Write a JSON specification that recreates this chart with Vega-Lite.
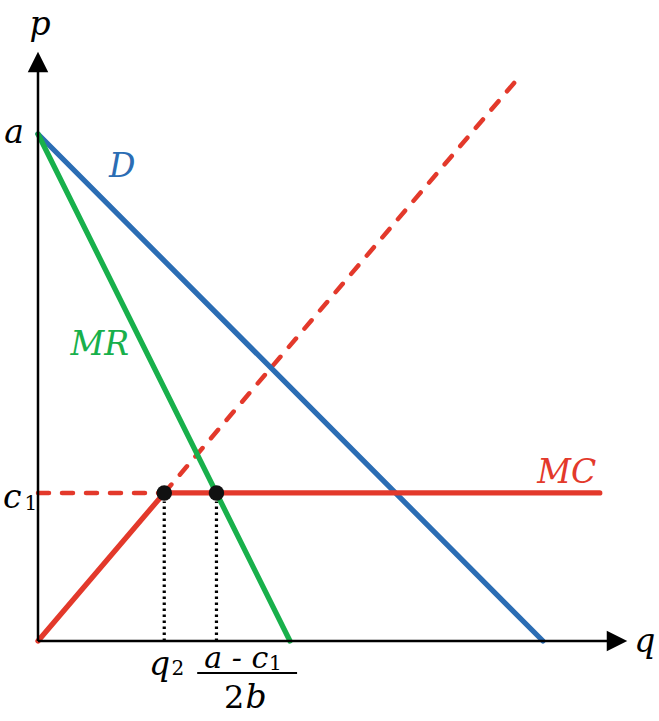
{
  "$schema": "https://vega.github.io/schema/vega-lite/v6.json",
  "width": 659,
  "height": 721,
  "padding": 0,
  "autosize": {"type": "fit", "contains": "padding"},
  "background": "white",
  "config": {"view": {"stroke": null}},
  "datasets": {
    "segments": [
      {"who": "axis", "q": 0, "p": 0, "q2": 0, "p2": 114},
      {"who": "axis", "q": 0, "p": 0, "q2": 114, "p2": 0}
    ],
    "curves": [
      {"who": "D", "q": 0, "p": 100, "q2": 99.6, "p2": 0},
      {"who": "MC", "q": 0, "p": 0, "q2": 24.9, "p2": 29.2},
      {"who": "MC", "q": 24.9, "p": 29.2, "q2": 110.8, "p2": 29.2},
      {"who": "MR", "q": 0, "p": 100, "q2": 49.7, "p2": 0}
    ],
    "dashed": [
      {"who": "MC", "q": 0, "p": 29.2, "q2": 24.9, "p2": 29.2},
      {"who": "MC", "q": 24.9, "p": 29.2, "q2": 94.7, "p2": 111}
    ],
    "drops": [
      {"who": "axis", "q": 24.9, "p": 0, "q2": 24.9, "p2": 27.5},
      {"who": "axis", "q": 35.2, "p": 0, "q2": 35.2, "p2": 27.5}
    ],
    "bar": [
      {"who": "axis", "q": 31.4, "p": -6.3, "q2": 51.1, "p2": -6.3}
    ],
    "dots": [
      {"q": 24.9, "p": 29.2},
      {"q": 35.2, "p": 29.2}
    ],
    "arrowUp": [{"q": 0, "p": 114.2}],
    "arrowRight": [{"q": 114.2, "p": 0}],
    "italic": [
      {"who": "axis", "label": "p", "q": 0.4, "p": 119.5},
      {"who": "axis", "label": "a", "q": -4.7, "p": 98.2},
      {"who": "axis", "label": "c", "q": -5.1, "p": 26.2},
      {"who": "axis", "label": "q", "q": 119.7, "p": -2.2},
      {"who": "axis", "label": "q", "q": 24.0, "p": -6.7},
      {"who": "axis", "label": "b", "q": 43.0, "p": -13.2},
      {"who": "D", "label": "D", "q": 16.6, "p": 91.5},
      {"who": "MR", "label": "MR", "q": 12.2, "p": 56.4},
      {"who": "MC", "label": "MC", "q": 104.3, "p": 31.2}
    ],
    "fraction": [
      {"who": "axis", "label": "a - c", "q": 39.1, "p": -5.3}
    ],
    "regular": [
      {"who": "axis", "label": "1", "q": -1.4, "p": 25.8},
      {"who": "axis", "label": "2", "q": 27.6, "p": -6.7},
      {"who": "axis", "label": "1", "q": 46.8, "p": -5.7}
    ],
    "regularBig": [
      {"who": "axis", "label": "2", "q": 38.7, "p": -13.2}
    ]
  },
  "layer": [
    {
      "data": {"name": "dashed"},
      "mark": {"type": "rule", "strokeWidth": 4.5, "strokeDash": [11, 13], "strokeCap": "round"},
      "encoding": {
        "x": {"field": "q", "type": "quantitative", "scale": {"domain": [-7.495, 122.485], "nice": false, "zero": false}, "axis": null},
        "y": {"field": "p", "type": "quantitative", "scale": {"domain": [-15.78, 126.43], "nice": false, "zero": false}, "axis": null},
        "x2": {"field": "q2"},
        "y2": {"field": "p2"},
        "color": {"field": "who", "type": "nominal", "scale": {"domain": ["axis", "D", "MR", "MC"], "range": ["#000000", "#2b6db4", "#18b04b", "#e3392b"]}, "legend": null}
      }
    },
    {
      "data": {"name": "drops"},
      "mark": {"type": "rule", "strokeWidth": 3.2, "strokeDash": [2.5, 3.5]},
      "encoding": {
        "x": {"field": "q", "type": "quantitative", "axis": null},
        "y": {"field": "p", "type": "quantitative", "axis": null},
        "x2": {"field": "q2"},
        "y2": {"field": "p2"},
        "color": {"field": "who", "type": "nominal", "legend": null}
      }
    },
    {
      "data": {"name": "curves"},
      "mark": {"type": "rule", "strokeWidth": 5.3, "strokeCap": "round"},
      "encoding": {
        "x": {"field": "q", "type": "quantitative", "axis": null},
        "y": {"field": "p", "type": "quantitative", "axis": null},
        "x2": {"field": "q2"},
        "y2": {"field": "p2"},
        "color": {"field": "who", "type": "nominal", "legend": null}
      }
    },
    {
      "data": {"name": "segments"},
      "mark": {"type": "rule", "strokeWidth": 2.5},
      "encoding": {
        "x": {"field": "q", "type": "quantitative", "axis": null},
        "y": {"field": "p", "type": "quantitative", "axis": null},
        "x2": {"field": "q2"},
        "y2": {"field": "p2"},
        "color": {"field": "who", "type": "nominal", "legend": null}
      }
    },
    {
      "data": {"name": "bar"},
      "mark": {"type": "rule", "strokeWidth": 2},
      "encoding": {
        "x": {"field": "q", "type": "quantitative", "axis": null},
        "y": {"field": "p", "type": "quantitative", "axis": null},
        "x2": {"field": "q2"},
        "y2": {"field": "p2"},
        "color": {"field": "who", "type": "nominal", "legend": null}
      }
    },
    {
      "data": {"name": "dots"},
      "mark": {"type": "point", "shape": "circle", "filled": true, "opacity": 1, "size": 240, "color": "#111111"},
      "encoding": {
        "x": {"field": "q", "type": "quantitative", "axis": null},
        "y": {"field": "p", "type": "quantitative", "axis": null}
      }
    },
    {
      "data": {"name": "arrowUp"},
      "mark": {"type": "point", "shape": "M0,-1L-1,1L1,1Z", "filled": true, "opacity": 1, "size": 420, "color": "#000000"},
      "encoding": {
        "x": {"field": "q", "type": "quantitative", "axis": null},
        "y": {"field": "p", "type": "quantitative", "axis": null}
      }
    },
    {
      "data": {"name": "arrowRight"},
      "mark": {"type": "point", "shape": "M1,0L-1,-1L-1,1Z", "filled": true, "opacity": 1, "size": 420, "color": "#000000"},
      "encoding": {
        "x": {"field": "q", "type": "quantitative", "axis": null},
        "y": {"field": "p", "type": "quantitative", "axis": null}
      }
    },
    {
      "data": {"name": "italic"},
      "mark": {"type": "text", "font": "DejaVu Serif", "fontStyle": "italic", "fontSize": 33, "align": "center", "baseline": "alphabetic"},
      "encoding": {
        "x": {"field": "q", "type": "quantitative", "axis": null},
        "y": {"field": "p", "type": "quantitative", "axis": null},
        "text": {"field": "label"},
        "color": {"field": "who", "type": "nominal", "legend": null}
      }
    },
    {
      "data": {"name": "fraction"},
      "mark": {"type": "text", "font": "DejaVu Serif", "fontStyle": "italic", "fontSize": 30, "align": "center", "baseline": "alphabetic"},
      "encoding": {
        "x": {"field": "q", "type": "quantitative", "axis": null},
        "y": {"field": "p", "type": "quantitative", "axis": null},
        "text": {"field": "label"},
        "color": {"field": "who", "type": "nominal", "legend": null}
      }
    },
    {
      "data": {"name": "regular"},
      "mark": {"type": "text", "font": "DejaVu Serif", "fontSize": 20, "align": "center", "baseline": "alphabetic"},
      "encoding": {
        "x": {"field": "q", "type": "quantitative", "axis": null},
        "y": {"field": "p", "type": "quantitative", "axis": null},
        "text": {"field": "label"},
        "color": {"field": "who", "type": "nominal", "legend": null}
      }
    },
    {
      "data": {"name": "regularBig"},
      "mark": {"type": "text", "font": "DejaVu Serif", "fontSize": 32, "align": "center", "baseline": "alphabetic"},
      "encoding": {
        "x": {"field": "q", "type": "quantitative", "axis": null},
        "y": {"field": "p", "type": "quantitative", "axis": null},
        "text": {"field": "label"},
        "color": {"field": "who", "type": "nominal", "legend": null}
      }
    }
  ]
}
